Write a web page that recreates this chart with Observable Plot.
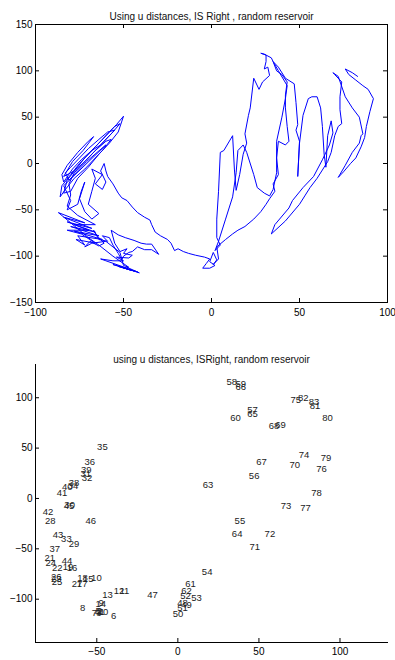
<!DOCTYPE html>
<html><head><meta charset="utf-8">
<script src="https://cdn.jsdelivr.net/npm/d3@7"></script>
<script src="https://cdn.jsdelivr.net/npm/@observablehq/plot@0.6"></script>
<style>
body{margin:0;background:#fff;}
#c{width:395px;}
#c svg{display:block;}
</style></head><body><div id="c"></div>
<script>
const topTitle = "Using u distances, IS Right , random reservoir";
const bottomTitle = "using u distances, ISRight, random reservoir";
const topXTicks = [-100, -50, 0, 50, 100];
const topYTicks = [-150, -100, -50, 0, 50, 100, 150];
const topXDomain = [-100, 100];
const topYDomain = [-150, 150];
const bottomXTicks = [-50, 0, 50, 100];
const bottomYTicks = [-100, -50, 0, 50, 100];
const bottomXDomain = [-87.8, 129.3];
const bottomYDomain = [-143, 133];

// trajectory (top panel), [x, y] vertices
const trajectory = [
 [-48,-112],[-41,-118],[-49,-113],[-42,-117],[-51,-112],[-44,-116],[-53,-111],[-46,-115],[-56,-109],[-48,-113],[-60,-105],[-63,-103],[-56,-105],[-50,-105],[-54,-101],[-47,-102],[-45,-99],[-50,-97],[-48,-92],
 [-52,-95],[-55,-86],[-57,-72],[-53,-77],[-49,-80],[-44,-83],[-40,-86],[-37,-87],[-34,-87],[-30,-98],[-34,-93],[-38,-93],[-42,-90],[-45,-95],[-47,-96],[-50,-100],[-51,-104],[-53,-97],[-56,-88],[-58,-80],[-62,-78],[-59,-84],[-64,-82],[-67,-72],[-65,-78],[-61,-86],[-64,-89],[-69,-84],[-72,-90],[-68,-86],[-60,-84],[-52,-96],[-50,-110],[-47,-112],
 [-56,-100],[-64,-88],[-70,-80],[-80,-64],[-87,-53],[-72,-64],[-84,-58],[-68,-70],[-82,-63],[-66,-74],[-80,-68],[-64,-78],[-78,-73],[-62,-82],[-76,-78],[-72,-88],[-77,-82],[-66,-86],[-74,-76],[-82,-72],[-70,-72],[-78,-66],[-66,-66],
 [-76,-56],[-82,-46],[-80,-34],[-81,-22],[-78,-10],[-73,0],[-67,12],[-61,24],[-56,34],[-52,43],[-55,40],[-60,30],[-66,18],[-72,6],[-77,-6],[-82,-18],[-84,-32],[-80,-30],[-76,-16],[-70,-4],[-64,10],[-58,22],[-53,34],[-50,51],[-54,42],[-58,34],[-63,24],[-69,12],[-75,0],[-80,-12],[-85,-24],[-86,-36],[-83,-28],[-78,-16],[-72,-6],[-66,6],[-62,14],[-57,26],[-60,24],[-66,14],[-72,2],[-78,-8],[-84,-14],[-79,2],[-73,14],[-67,29],[-70,24],[-76,12],[-82,-2],[-85,-12],
 [-84,-20],[-79,-6],[-74,4],[-68,14],[-63,20],[-58,30],[-55,36],[-59,34],[-64,26],[-70,16],[-75,6],[-80,-4],[-83,-10],[-81,-18],[-76,-8],[-71,2],[-65,12],[-60,20],
 [-84,-24],[-80,-40],[-82,-50],[-76,-44],[-74,-30],[-72,-20],[-75,-38],[-72,-52],[-68,-60],[-64,-54],[-70,-44],[-68,-30],[-66,-16],[-68,-6],[-62,-12],[-66,-22],[-62,-28],[-60,-20],[-63,-8],[-61,0],
 [-60,-8],[-59,-14],[-56,-22],[-53,-32],[-51,-37],[-48,-40],[-45,-47],[-42,-53],[-38,-58],[-35,-61],[-34,-66],[-32,-74],[-29,-78],[-25,-82],[-23,-86],[-21,-94],[-19,-92],[-16,-95],[-13,-97],[-9,-99],[-4,-101],[-1,-103],[-3,-108],[-5,-113],[-1,-113],[2,-110],[-1,-106],[1,-96],[3,-104],[1,-109],[4,-103],
 [3,-90],[8,-82],[12,-76],[15,-72],[19,-68],[24,-60],[28,-52],[31,-44],[33,-38],[36,-30],[35,-22],[38,-12],[37,6],[38,24],[42,20],[44,24],[43,40],[42,60],[42,74],[43,88],[40,96],[37,100],[35,110],[34,114],[30,118],[28,119],[31,117],[31,110],[30,102],[32,104],[33,95],[29,88],[27,80],[24,92],[22,60],[21,52],[19,32],[20,22],[18,10],[16,-12],[14,-29],[13,-6],[12,30],[7,14],[5,12],[4,-30],[3,-60],[3,-80],[5,-88],[2,-94],[4,-84],[8,-60],[12,-36],[14,-10],[15,14],[18,20],[20,12],[24,-12],[26,-26],[30,-32],[33,-35],[35,-28],[37,-10],[37,24],[40,50],[42,70],[43,84],[38,100],[35,110],[38,104],[42,92],[47,86],[48,66],[49,42],[48,36],[50,24],[49,-14],[50,22],[52,52],[55,70],[57,72],[60,72],[62,60],[63,40],[64,10],[65,-4],[66,30],[68,46],[69,33],[67,20],[63,4],[58,-14],[52,-26],[46,-40],[44,-48],[36,-66],[34,-76],[42,-62],[50,-44],[53,-35],[56,-26],[60,-16],[63,-7],[66,2],[68,12],[70,30],[72,40],[74,43],[73,58],[73,72],[74,88],[70,96],[69,98],[72,94],[76,72],[80,60],[84,50],[86,32],[85,30],[84,22],[80,12],[76,-2],[72,-15],[75,-9],[79,0],[82,6],[85,18],[87,28],[88,40],[90,56],[92,70],[89,80],[86,84],[82,90],[78,96],[76,102],[80,98],[83,94]
];

// numbered points (bottom panel)
const labelNames = d3.range(1, 84).map(String);
const labelX = [-48.4,-49.8,-50.4,-51.4,-50.8,-41.2,-53.1,-60.3,-49.0,-53.5,
 -36.0,-39.5,-46.7,-50.8,-58.6,-68.5,-62.3,-62.1,-71.0,-49.4,
 -82.3,-77.6,-78.2,-81.7,-77.8,-78.2,-65.4,-81.9,-67.3,-70.0,
 -60.1,-59.3,-72.0,-67.9,-49.8,-57.6,-79.2,-67.3,-59.7,-71.4,
 -74.7,-83.3,-77.2,-71.6,-70.4,-57.0,-18.9,-0.4,2.1,-3.1,
 -0.4,1.4,8.2,14.8,35.0,43.8,42.8,30.0,35.6,32.3,
 4.5,2.1,15.4,33.3,42.8,35.6,48.4,56.0,60.1,68.9,
 44.2,53.5,63.4,74.5,69.5,85.4,75.5,82.3,88.1,89.1,
 81.3,74.1,80.7];
const labelY = [-112.9,-111.6,-113.6,-112.6,-111.6,-116.9,-113.2,-108.6,-103.6,-78.5,
 -91.7,-91.7,-95.7,-104.3,-79.8,-69.2,-84.8,-78.8,-68.2,-112.9,
 -59.3,-68.9,-79.8,-63.6,-83.1,-77.5,-84.8,-22.5,-45.0,-6.0,
 24.2,20.2,-40.1,12.9,51.3,36.1,-50.0,15.6,28.8,11.3,
 5.0,-12.9,-35.8,-61.6,-7.0,-21.9,-95.7,-103.6,-105.6,-114.6,
 -108.9,-96.4,-98.7,-73.2,-22.2,22.8,88.1,115.6,113.2,80.1,
 -84.8,-92.1,13.9,-35.1,84.1,110.3,36.1,71.5,73.2,32.8,
 -48.3,-35.1,-7.0,43.4,97.4,29.5,-9.3,5.6,40.4,80.1,
 91.7,99.7,95.7];

const font = "'Liberation Sans', Arial, Helvetica, sans-serif";
const style = {fontFamily: font, fontSize: "10px", color: "#000", background: "#fff", overflow: "visible"};
const W = 395, H = 330, ML = 35, MR = 8;
const frameW = W - ML - MR;
const tick = 4;

const topMT = 24, topMB = 28, topFH = H - topMT - topMB;
const topPlot = Plot.plot({
  width: W, height: H,
  marginLeft: ML, marginRight: MR, marginTop: topMT, marginBottom: topMB,
  x: {domain: topXDomain, label: null},
  y: {domain: topYDomain, label: null},
  style,
  marks: [
    Plot.line(trajectory, {x: d => d[0], y: d => d[1], stroke: "#0000ff", strokeWidth: 1}),
    Plot.frame({stroke: "#000", strokeWidth: 1}),
    Plot.tickX(topXTicks, {x: d => d, insetTop: topFH - tick, stroke: "#000"}),
    Plot.tickX(topXTicks, {x: d => d, insetBottom: topFH - tick, stroke: "#000"}),
    Plot.tickY(topYTicks, {y: d => d, insetRight: frameW - tick, stroke: "#000"}),
    Plot.tickY(topYTicks, {y: d => d, insetLeft: frameW - tick, stroke: "#000"}),
    Plot.axisX(topXTicks, {anchor: "bottom", tickSize: 0, tickPadding: 6}),
    Plot.axisY(topYTicks, {anchor: "left", tickSize: 0, tickPadding: 3}),
    Plot.text([topTitle], {frameAnchor: "top", dy: -12, fontSize: 10, fill: "#111"})
  ]
});

const botMT = 34, botMB = 18, botFH = H - botMT - botMB;
const labelData = labelNames.map((t, i) => ({t, x: labelX[i], y: labelY[i]}));
const bottomPlot = Plot.plot({
  width: W, height: H,
  marginLeft: ML, marginRight: MR, marginTop: botMT, marginBottom: botMB,
  x: {domain: bottomXDomain, label: null},
  y: {domain: bottomYDomain, label: null},
  style,
  marks: [
    Plot.text(labelData, {x: "x", y: "y", text: "t", textAnchor: "start", fontSize: 9.5, fill: "#222"}),
    Plot.frame({anchor: "bottom", stroke: "#000"}),
    Plot.frame({anchor: "left", stroke: "#000"}),
    Plot.tickX(bottomXTicks, {x: d => d, insetTop: botFH - tick, stroke: "#000"}),
    Plot.tickY(bottomYTicks, {y: d => d, insetRight: frameW - tick, stroke: "#000"}),
    Plot.axisX(bottomXTicks, {anchor: "bottom", tickSize: 0, tickPadding: 5}),
    Plot.axisY(bottomYTicks, {anchor: "left", tickSize: 0, tickPadding: 3}),
    Plot.text([bottomTitle], {frameAnchor: "top", dy: -9, fontSize: 10, fill: "#111"})
  ]
});

document.getElementById("c").append(topPlot, bottomPlot);
</script></body></html>
